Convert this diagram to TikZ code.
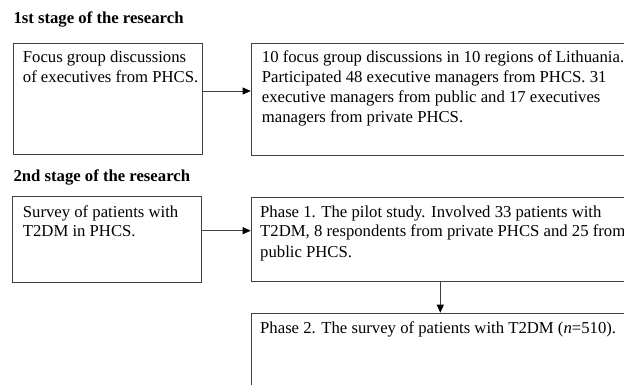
\documentclass[tikz,border=0pt]{standalone}
\usepackage{fontspec}
\setmainfont{Liberation Serif}
\usetikzlibrary{arrows.meta}
\newcommand{\mylines}[1]{\begin{tabular}[t]{@{}l@{}}#1\end{tabular}}
\tikzset{
  boxshape/.style={draw=black!75, line width=0.9pt, rectangle, anchor=north west, inner sep=0pt},
  boxtext/.style={anchor=base west, inner sep=0pt, font=\fontsize{16.7}{20}\selectfont},
  titletext/.style={anchor=base west, inner sep=0pt, font=\fontsize{16.7}{20}\selectfont\bfseries},
  conn/.style={draw=black!75, line width=0.7pt, -{Triangle[length=8pt,width=7pt,fill=black,color=black]}}
}
\begin{document}
\begin{tikzpicture}[x=1pt,y=-1pt]
\useasboundingbox (0,0) rectangle (624,385);
\clip (0,0) rectangle (624,385);
\node[titletext] (t1) at (13.3,24) {1st stage of the research};
\node[titletext] (t2) at (13.3,182) {2nd stage of the research};

\node[boxshape, minimum width=189pt, minimum height=111.3pt] (A) at (12.7,42.7) {};
\node[boxshape, minimum width=450pt, minimum height=112.3pt] (B) at (250.7,42.7) {};
\node[boxshape, minimum width=189pt, minimum height=85.5pt] (C) at (12.2,196.2) {};
\node[boxshape, minimum width=450pt, minimum height=84pt] (D) at (250.7,196.7) {};
\node[boxshape, minimum width=450pt, minimum height=140pt] (E) at (250.7,312.7) {};

\node[boxtext] (Atext) at (22.7,62.7) {\mylines{Focus group discussions\\of executives from PHCS.}};
\node[boxtext] (Btext) at (261.7,62.7) {\mylines{10 focus group discussions in 10 regions of Lithuania.\\Participated 48 executive managers from PHCS. 31\\executive managers from public and 17 executives\\managers from private PHCS.}};
\node[boxtext] (Ctext) at (22.7,217) {\mylines{Survey of patients with\\T2DM in PHCS.}};
\node[boxtext] (Dtext) at (260,217) {\mylines{Phase 1. The pilot study. Involved 33 patients with\\T2DM, 8 respondents from private PHCS and 25 from\\public PHCS.}};
\node[boxtext] (Etext) at (260,333.5) {Phase 2. The survey of patients with T2DM (\textit{n}=510).};

\coordinate (y1) at (0,91);
\coordinate (y2) at (0,230.7);
\coordinate (x3) at (440.3,0);
\draw[conn] (A.east |- y1) -- (B.west |- y1);
\draw[conn] (C.east |- y2) -- (D.west |- y2);
\draw[conn] (D.south -| x3) -- (E.north -| x3);
\end{tikzpicture}
\end{document}
